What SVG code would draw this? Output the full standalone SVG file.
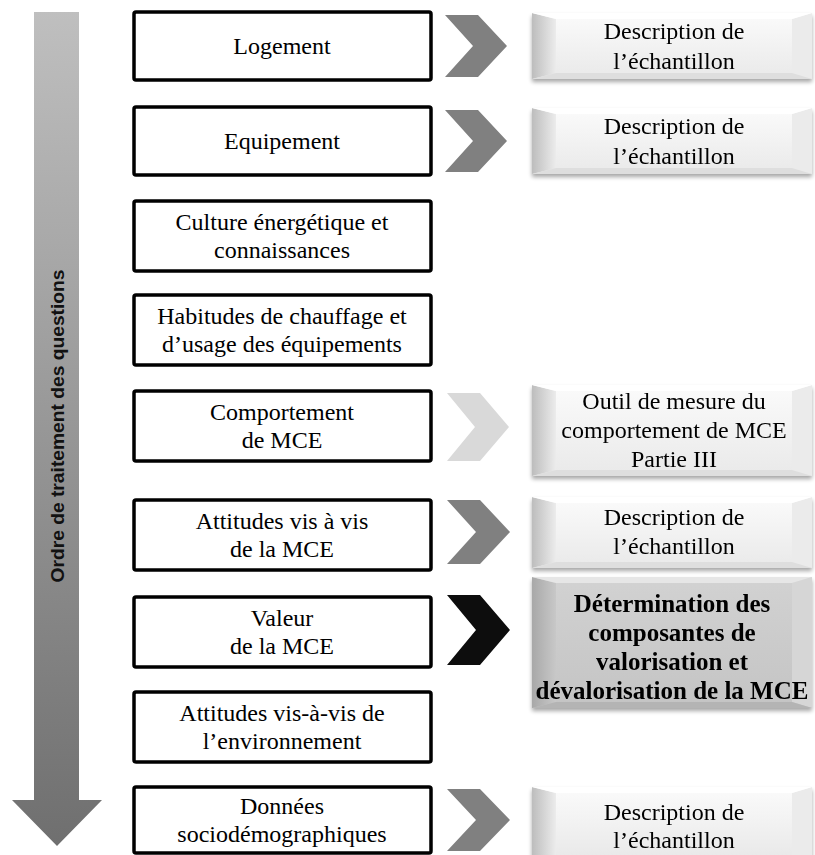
<svg xmlns="http://www.w3.org/2000/svg" width="815" height="855" viewBox="0 0 815 855">
<defs>
<style>
.lb{fill:#fff;stroke:#000;stroke-width:3.5}
.t{font-family:'Liberation Serif','Times New Roman',serif;font-size:24px;fill:#000;text-anchor:middle}
.tb{font-family:'Liberation Serif','Times New Roman',serif;font-size:25px;font-weight:bold;fill:#000;text-anchor:middle}
.cg{fill:#808080}
.cl{fill:#d9d9d9}
.ck{fill:#0d0d0d}
</style>
<linearGradient id="arr" x1="0" y1="0" x2="0" y2="1">
<stop offset="0" stop-color="#bfbfbf"/>
<stop offset="1" stop-color="#6f6f6f"/>
</linearGradient>
<linearGradient id="face" x1="0" y1="0" x2="0" y2="1">
<stop offset="0" stop-color="#fbfbfb"/>
<stop offset="1" stop-color="#e9e9e9"/>
</linearGradient>
<linearGradient id="faceD" x1="0" y1="0" x2="0" y2="1">
<stop offset="0" stop-color="#d2d2d2"/>
<stop offset="1" stop-color="#c4c4c4"/>
</linearGradient>
<linearGradient id="bl" x1="0" y1="0" x2="1" y2="0">
<stop offset="0" stop-color="#bdbdbd"/>
<stop offset="1" stop-color="#ececec"/>
</linearGradient>
<linearGradient id="blD" x1="0" y1="0" x2="1" y2="0">
<stop offset="0" stop-color="#a8a8a8"/>
<stop offset="1" stop-color="#c8c8c8"/>
</linearGradient>
<filter id="sh" x="-5%" y="-10%" width="110%" height="130%">
<feGaussianBlur in="SourceAlpha" stdDeviation="2"/>
<feOffset dx="0" dy="3"/>
<feComponentTransfer><feFuncA type="linear" slope="0.35"/></feComponentTransfer>
<feMerge><feMergeNode/><feMergeNode in="SourceGraphic"/></feMerge>
</filter>
</defs>
<rect width="815" height="855" fill="#fff"/>

<g id="order-arrow">
<polygon points="34,12 79,12 79,800 102,800 57,846 12,800 34,800" fill="url(#arr)"/>
<text transform="translate(64,426) rotate(-90)" text-anchor="middle" font-family="Liberation Sans, Arial, sans-serif" font-weight="bold" font-size="19" fill="#111" textLength="313" lengthAdjust="spacingAndGlyphs">Ordre de traitement des questions</text>
</g>

<g id="n1"><rect class="lb" x="134" y="12" width="297" height="68" rx="2"/><text class="t" x="282" y="54">Logement</text></g>
<g id="n2"><rect class="lb" x="134" y="107" width="297" height="68" rx="2"/><text class="t" x="282" y="149">Equipement</text></g>
<g id="n3"><rect class="lb" x="134" y="201" width="297" height="70" rx="2"/><text class="t" x="282" y="230">Culture énergétique et</text><text class="t" x="282" y="258">connaissances</text></g>
<g id="n4"><rect class="lb" x="134" y="295" width="297" height="70" rx="2"/><text class="t" x="282" y="324">Habitudes de chauffage et</text><text class="t" x="282" y="352">d’usage des équipements</text></g>
<g id="n5"><rect class="lb" x="134" y="391" width="297" height="70" rx="2"/><text class="t" x="282" y="420">Comportement</text><text class="t" x="282" y="448">de MCE</text></g>
<g id="n6"><rect class="lb" x="134" y="500" width="297" height="70" rx="2"/><text class="t" x="282" y="529">Attitudes vis à vis</text><text class="t" x="282" y="557">de la MCE</text></g>
<g id="n7"><rect class="lb" x="134" y="597" width="297" height="70" rx="2"/><text class="t" x="282" y="626">Valeur</text><text class="t" x="282" y="654">de la MCE</text></g>
<g id="n8"><rect class="lb" x="134" y="692" width="297" height="70" rx="2"/><text class="t" x="282" y="721">Attitudes vis-à-vis de</text><text class="t" x="282" y="749">l’environnement</text></g>
<g id="n9"><rect class="lb" x="134" y="787" width="297" height="66" rx="2"/><text class="t" x="282" y="814">Données</text><text class="t" x="282" y="842">sociodémographiques</text></g>

<g id="connectors">
<polygon class="cg" points="445,15 478,15 507,46 478,77 445,77 473,46"/>
<polygon class="cg" points="445,110 478,110 507,141 478,172 445,172 473,141"/>
<polygon class="cl" points="447,393 480,393 509,427 480,461 447,461 475,427"/>
<polygon class="cg" points="447,500 480,500 510,532 480,564 447,564 476,532"/>
<polygon class="ck" points="447,595 480,595 510,630 480,665 447,665 476,630"/>
<polygon class="cg" points="447,789 480,789 510,820 480,851 447,851 476,820"/>
</g>

<g id="r1" filter="url(#sh)">
<rect x="532" y="13" width="280" height="66" fill="url(#face)"/>
<polygon points="532,13 556,19 556,73 532,79" fill="url(#bl)"/>
<polygon points="812,13 792,19 792,73 812,79" fill="#ebebeb"/>
<polygon points="532,13 812,13 792,19 556,19" fill="#fff"/>
<polygon points="532,79 812,79 792,73 556,73" fill="#dedede"/>
<text class="t" x="674" y="39">Description de</text><text class="t" x="674" y="69">l’échantillon</text>
</g>
<g id="r2" filter="url(#sh)">
<rect x="532" y="108" width="280" height="66" fill="url(#face)"/>
<polygon points="532,108 556,114 556,168 532,174" fill="url(#bl)"/>
<polygon points="812,108 792,114 792,168 812,174" fill="#ebebeb"/>
<polygon points="532,108 812,108 792,114 556,114" fill="#fff"/>
<polygon points="532,174 812,174 792,168 556,168" fill="#dedede"/>
<text class="t" x="674" y="134">Description de</text><text class="t" x="674" y="164">l’échantillon</text>
</g>
<g id="r5" filter="url(#sh)">
<rect x="532" y="385" width="280" height="91" fill="url(#face)"/>
<polygon points="532,385 556,391 556,470 532,476" fill="url(#bl)"/>
<polygon points="812,385 792,391 792,470 812,476" fill="#ebebeb"/>
<polygon points="532,385 812,385 792,391 556,391" fill="#fff"/>
<polygon points="532,476 812,476 792,470 556,470" fill="#dedede"/>
<text class="t" x="674" y="409">Outil de mesure du</text><text class="t" x="674" y="438">comportement de MCE</text><text class="t" x="674" y="467">Partie III</text>
</g>
<g id="r6" filter="url(#sh)">
<rect x="532" y="497" width="280" height="71" fill="url(#face)"/>
<polygon points="532,497 556,503 556,562 532,568" fill="url(#bl)"/>
<polygon points="812,497 792,503 792,562 812,568" fill="#ebebeb"/>
<polygon points="532,497 812,497 792,503 556,503" fill="#fff"/>
<polygon points="532,568 812,568 792,562 556,562" fill="#dedede"/>
<text class="t" x="674" y="525">Description de</text><text class="t" x="674" y="554">l’échantillon</text>
</g>
<g id="r7" filter="url(#sh)">
<rect x="532" y="577" width="280" height="131" fill="url(#faceD)"/>
<polygon points="532,577 556,583 556,702 532,708" fill="url(#blD)"/>
<polygon points="812,577 792,583 792,702 812,708" fill="#d6d6d6"/>
<polygon points="532,577 812,577 792,583 556,583" fill="#e6e6e6"/>
<polygon points="532,708 812,708 792,702 556,702" fill="#b4b4b4"/>
<text class="tb" x="672" y="612">Détermination des</text><text class="tb" x="672" y="641">composantes de</text><text class="tb" x="672" y="670">valorisation et</text><text class="tb" x="672" y="699">dévalorisation de la MCE</text>
</g>
<g id="r9" filter="url(#sh)">
<rect x="532" y="787" width="280" height="70" fill="url(#face)"/>
<polygon points="532,787 556,793 556,857 532,857" fill="url(#bl)"/>
<polygon points="812,787 792,793 792,857 812,857" fill="#ebebeb"/>
<polygon points="532,787 812,787 792,793 556,793" fill="#fff"/>
<text class="t" x="674" y="820">Description de</text><text class="t" x="674" y="848">l’échantillon</text>
</g>
</svg>
